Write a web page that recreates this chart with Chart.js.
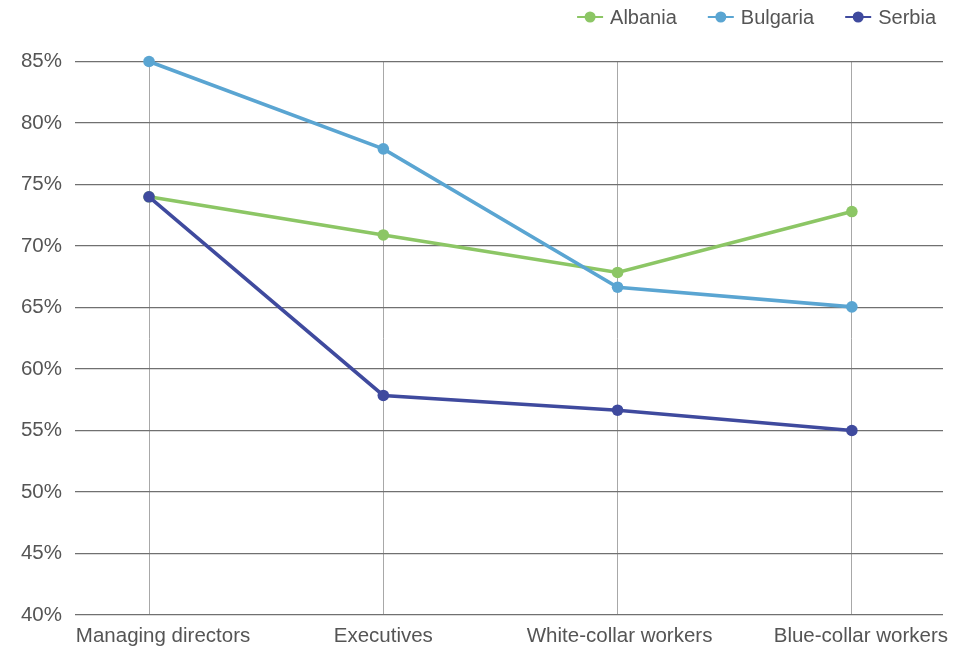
<!DOCTYPE html>
<html>
<head>
<meta charset="utf-8">
<script src="https://cdn.jsdelivr.net/npm/chart.js@4"></script>
<style>
html,body{margin:0;padding:0;background:#fff;}
#wrap{width:966px;height:648px;}
</style>
</head>
<body>
<div id="wrap"><canvas id="c" width="966" height="648"></canvas></div>
<script>
const categories = ["Managing directors", "Executives", "White-collar workers", "Blue-collar workers"];
const seriesNames = ["Albania", "Bulgaria", "Serbia"];
const albania = [74.0, 70.9, 67.85, 72.8];
const bulgaria = [85.0, 77.9, 66.65, 65.05];
const serbia = [74.0, 57.85, 56.65, 55.0];
const yTicks = [40, 45, 50, 55, 60, 65, 70, 75, 80, 85];
const colors = ["#8cc665", "#5aa5d2", "#3f4a9e"];
// horizontal nudge of category labels (first one sits flush with the plot's left edge)
const labelNudge = [14, 0, 2, 9];

const FONT = "'Liberation Sans', Arial, Helvetica, sans-serif";
const toPoints = arr => arr.map((v, i) => ({x: i, y: v}));

const legendPlugin = {
  id: 'customLegend',
  afterDraw(chart) {
    const ctx = chart.ctx;
    ctx.save();
    ctx.font = "20px " + FONT;
    ctx.textBaseline = 'middle';
    const lineW = 26, gapText = 7, gapItem = 31, y = 17;
    const items = chart.data.datasets.map(ds => ({label: ds.label, color: ds.borderColor, w: lineW + gapText + ctx.measureText(ds.label).width}));
    let total = items.reduce((s, it) => s + it.w, 0) + gapItem * (items.length - 1);
    let x = 936 - total;
    items.forEach(it => {
      ctx.strokeStyle = it.color;
      ctx.lineWidth = 2;
      ctx.beginPath(); ctx.moveTo(x, y); ctx.lineTo(x + lineW, y); ctx.stroke();
      ctx.fillStyle = it.color;
      ctx.beginPath(); ctx.arc(x + lineW / 2, y, 5.5, 0, Math.PI * 2); ctx.fill();
      ctx.fillStyle = '#555555';
      ctx.textAlign = 'left';
      ctx.fillText(it.label, x + lineW + gapText, y + 1);
      x += it.w + gapItem;
    });
    ctx.restore();
  }
};

const nudgePlugin = {
  id: 'labelNudge',
  beforeDraw(chart) {
    const items = chart.scales.x.getLabelItems();
    items.forEach((it, i) => {
      if (!it._nudged) {
        it.options.translation[0] += labelNudge[i] || 0;
        it._nudged = true;
      }
    });
  }
};

const seriesData = [albania, bulgaria, serbia];
new Chart(document.getElementById('c'), {
  type: 'line',
  data: {
    datasets: seriesNames.map((name, i) => ({
      label: name,
      data: toPoints(seriesData[i]),
      borderColor: colors[i],
      backgroundColor: colors[i],
      borderWidth: 3.6,
      pointRadius: 5.8,
      pointHoverRadius: 5.8,
      pointBackgroundColor: colors[i],
      pointBorderWidth: 0,
      tension: 0,
      clip: false,
      order: 3 - i
    }))
  },
  options: {
    responsive: false,
    animation: false,
    events: [],
    layout: {padding: {top: 61.5, right: 23, bottom: 0, left: 0}},
    plugins: {legend: {display: false}, tooltip: {enabled: false}},
    scales: {
      x: {
        type: 'linear',
        min: -0.316,
        max: 3.389,
        afterBuildTicks: scale => { scale.ticks = categories.map((c, i) => ({value: i})); },
        afterFit: scale => { scale.height = 33; },
        ticks: {
          callback: v => categories[v],
          font: {size: 20.5, family: FONT},
          color: '#555555',
          padding: 9,
          maxRotation: 0,
          autoSkip: false
        },
        grid: {color: '#a8a8a8', lineWidth: 1, drawTicks: false},
        border: {display: false}
      },
      y: {
        min: 40,
        max: 85,
        afterBuildTicks: scale => { scale.ticks = yTicks.map(v => ({value: v})); },
        afterFit: scale => { scale.width = 75; },
        ticks: {
          callback: v => v + '%',
          font: {size: 20.5, family: FONT},
          color: '#555555',
          padding: 13
        },
        grid: {color: '#707070', lineWidth: 1.2, drawTicks: false},
        border: {display: false}
      }
    }
  },
  plugins: [legendPlugin, nudgePlugin]
});
</script>
</body>
</html>
